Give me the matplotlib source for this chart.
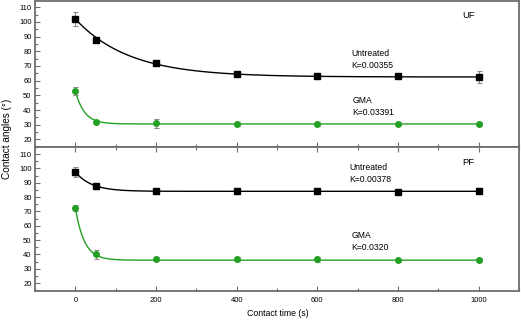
import numpy as np
import matplotlib.pyplot as plt
from matplotlib.ticker import MultipleLocator

plt.rcParams['font.family'] = ['Liberation Sans', 'DejaVu Sans']

# measured contact angles
time = [0, 50, 200, 400, 600, 800, 1000]

uf_untreated = [102, 88, 72, 64.5, 63, 63, 62.5]
uf_untreated_err = [4.7, 2, 1, 1, 2, 1.5, 3.8]
uf_gma = [53, 32, 31, 30.5, 30.5, 30.5, 30.5]
uf_gma_err = [2.5, 1.5, 3, 1.5, 1.5, 1, 1.5]

pf_untreated = [97.5, 87.5, 84, 84, 84, 83.5, 84]
pf_untreated_err = [3.5, 2, 1.5, 2, 1, 1, 2]
pf_gma = [72.5, 40, 37, 37, 36.5, 36, 36]
pf_gma_err = [2, 3, 1.5, 1.5, 2, 1, 1.5]

# exponential decay fits: plateau, amplitude, rate
fit_uf_untreated = (62.5, 39.5, 0.0075)
fit_uf_gma = (30.5, 22.5, 0.045)
fit_pf_untreated = (84.0, 13.5, 0.025)
fit_pf_gma = (36.0, 36.5, 0.045)

GREEN = '#23a023'
SPINE = '#6e6e6e'


def decay(t, params):
    y0, a, k = params
    return y0 + a * np.exp(-k * t)


def draw_panel(ax, series, labels, tag, tag_y, ylim):
    t = np.linspace(0, 1000, 600)
    for (y, err, fit, color, marker) in series:
        ax.plot(t, decay(t, fit), color=color, lw=1.0, zorder=2)
        ax.errorbar(time, y, yerr=err, fmt='none', ecolor='#8a8a8a',
                    elinewidth=0.8, capsize=1.8, capthick=0.8, zorder=3)
        ax.plot(time, y, linestyle='none', marker=marker, color=color,
                markersize=4.0, zorder=4)
    for (x, y, s) in labels:
        ax.text(x, y, s, fontsize=6.2, va='center', ha='left', linespacing=1.45)
    ax.text(960, tag_y, tag, fontsize=6.8, va='center', ha='left')

    ax.set_xlim(-100, 1100)
    ax.set_ylim(*ylim)
    ax.set_yticks(range(20, 111, 10))
    ax.yaxis.set_minor_locator(MultipleLocator(5))
    ax.xaxis.set_major_locator(MultipleLocator(200))
    ax.xaxis.set_minor_locator(MultipleLocator(100))
    ax.tick_params(which='both', direction='in', colors=SPINE, labelcolor='black',
                   labelsize=5.5, width=0.8)
    ax.tick_params(which='major', length=3.5, pad=2.5)
    ax.tick_params(which='minor', length=2)
    for sp in ax.spines.values():
        sp.set_color(SPINE)
        sp.set_linewidth(1.3)


fig = plt.figure(figsize=(5.21, 3.2), dpi=100)
ax_top = fig.add_axes([0.0672, 0.542, 0.929, 0.455])
ax_bot = fig.add_axes([0.0672, 0.0906, 0.929, 0.4514])

draw_panel(ax_top,
           [(uf_untreated, uf_untreated_err, fit_uf_untreated, 'black', 's'),
            (uf_gma, uf_gma_err, fit_uf_gma, GREEN, 'o')],
           [(685, 74.4, 'Untreated\nK=0.00355'), (687, 42.4, 'GMA\nK=0.03391')],
           'UF', 104.3, (15.1, 114.3))
ax_top.tick_params(axis='x', labelbottom=False)

draw_panel(ax_bot,
           [(pf_untreated, pf_untreated_err, fit_pf_untreated, 'black', 's'),
            (pf_gma, pf_gma_err, fit_pf_gma, GREEN, 'o')],
           [(679, 96.2, 'Untreated\nK=0.00378'), (685, 49.2, 'GMA\nK=0.0320')],
           'PF', 104.2, (14.5, 115.2))
ax_bot.tick_params(axis='x', which='both', top=True, pad=4)

fig.text(0.013, 0.567, 'Contact angles (°)', rotation=90, fontsize=7.2,
         va='center', ha='center')
fig.text(0.533, 0.019, 'Contact time (s)', fontsize=6.3, va='center', ha='center')

fig.savefig('out.png', dpi=100)
